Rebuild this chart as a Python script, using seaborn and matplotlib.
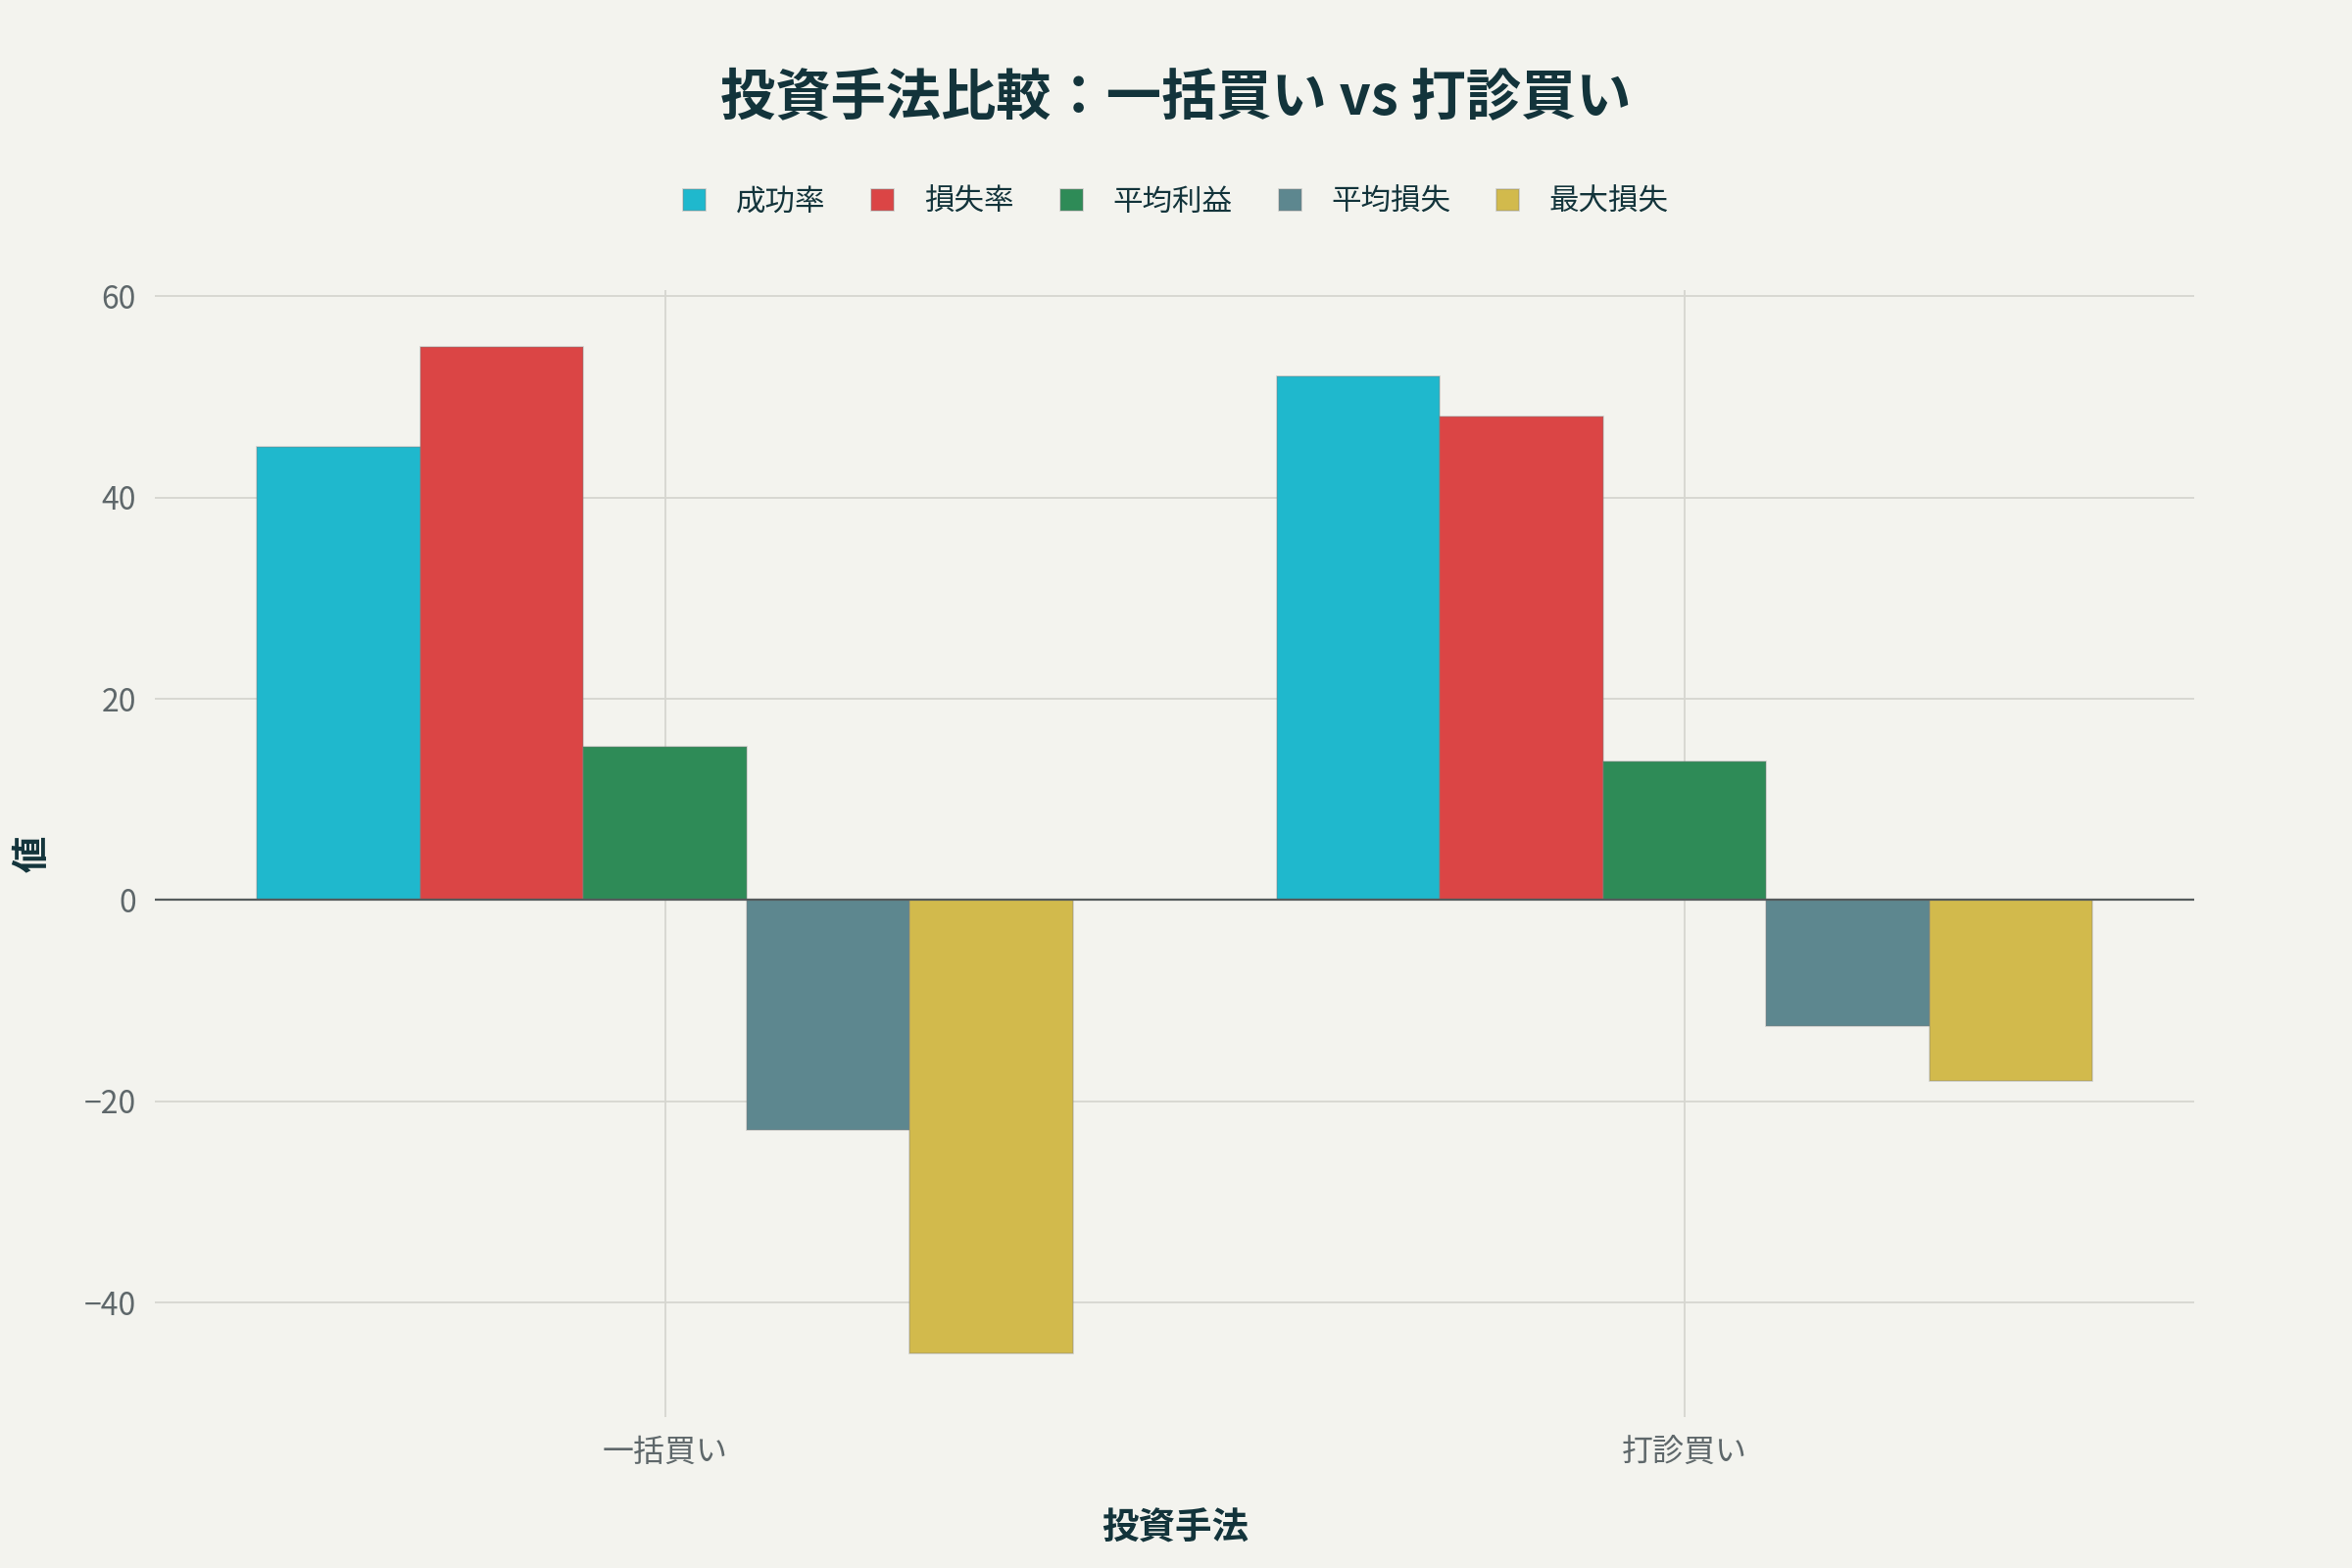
import pandas as pd
import matplotlib.pyplot as plt
import seaborn as sns

methods = ["一括買い", "打診買い"]
metrics = ["成功率", "損失率", "平均利益", "平均損失", "最大損失"]
lump_sum = [45, 55, 15.2, -22.8, -45]
probe = [52, 48, 13.8, -12.5, -18]
colors = ["#1FB8CD", "#DB4545", "#2E8B57", "#5D878F", "#D2BA4C"]

rows = []
for method, vals in zip(methods, [lump_sum, probe]):
    for metric, v in zip(metrics, vals):
        rows.append({"method": method, "metric": metric, "value": v})
df = pd.DataFrame(rows)

sns.set_style("whitegrid")
plt.rcParams["font.family"] = ["Noto Sans CJK JP", "DejaVu Sans"]
plt.rcParams["axes.unicode_minus"] = True

bg = "#F3F3EE"
dark = "#13343B"
grid = "#D6D6D0"

fig, ax = plt.subplots(figsize=(24, 16), dpi=100)
fig.patch.set_facecolor(bg)
ax.set_facecolor(bg)

sns.barplot(data=df, x="method", y="value", hue="metric", hue_order=metrics,
            palette=colors, saturation=1, width=0.8, errorbar=None, ax=ax,
            edgecolor=(0.5, 0.5, 0.5, 0.35), linewidth=1.2, zorder=3)

ax.set_xlim(-0.5, 1.5)
ax.set_ylim(-51.4, 60.6)
ax.set_yticks([-40, -20, 0, 20, 40, 60])
ax.grid(True, color=grid, linewidth=1.3, zorder=0)
ax.set_axisbelow(True)
ax.axhline(0, color="#555B5C", linewidth=1.6, zorder=4)
for s in ax.spines.values():
    s.set_visible(False)

ax.tick_params(axis="both", labelsize=23, colors="#5E676A", length=0, pad=14)
ax.set_xlabel("投資手法", fontsize=27, fontweight="bold", color=dark, labelpad=30)
ax.set_ylabel("値", fontsize=27, fontweight="bold", color=dark, labelpad=24)

handles, labels = ax.get_legend_handles_labels()
ax.legend(handles, labels, loc="center", bbox_to_anchor=(0.5, 0.871),
          bbox_transform=fig.transFigure, ncol=5, frameon=False, fontsize=22,
          handlelength=0.75, handleheight=0.75, handletextpad=1.0,
          columnspacing=1.55, labelcolor=dark)

fig.suptitle("投資手法比較：一括買い vs 打診買い", y=0.955, fontsize=40.5,
             fontweight="bold", color=dark)

fig.subplots_adjust(left=0.066, right=0.933, bottom=0.096, top=0.815)
plt.savefig("out.png", dpi=100, facecolor=bg)
